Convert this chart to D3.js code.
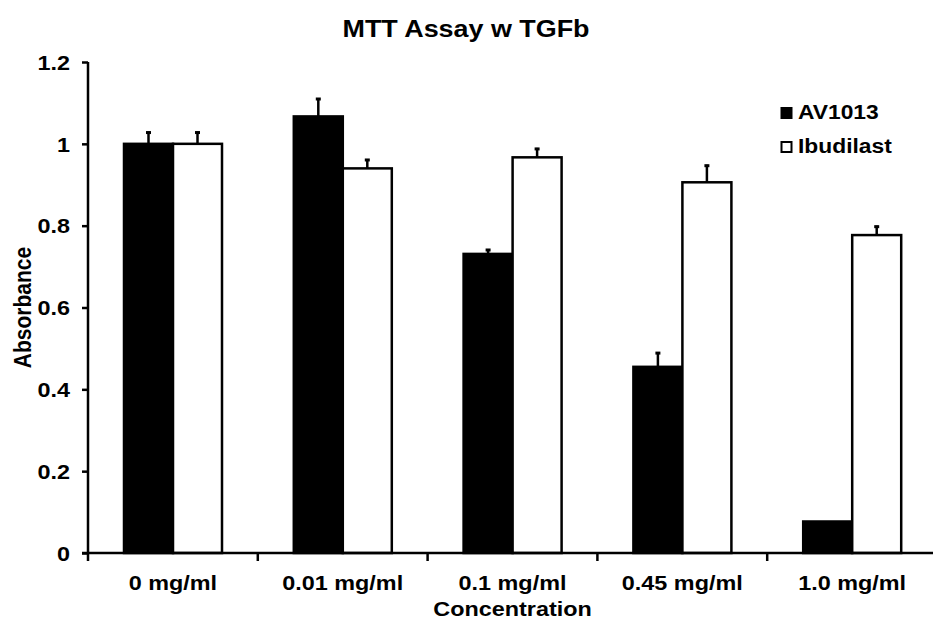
<!DOCTYPE html>
<html>
<head>
<meta charset="utf-8">
<script src="https://cdn.jsdelivr.net/npm/d3@7"></script>
<style>
  body { margin: 0; background: #fff; }
  text { font-family: "Liberation Sans", Arial, sans-serif; font-weight: bold; fill: #000; }
</style>
</head>
<body>
<svg id="chart" width="933" height="623"></svg>
<script>
var categories = ["0 mg/ml", "0.01 mg/ml", "0.1 mg/ml", "0.45 mg/ml", "1.0 mg/ml"];
var seriesNames = ["AV1013", "Ibudilast"];
var av1013 = [1.0, 1.067, 0.731, 0.455, 0.077];
var av1013Err = [0.030, 0.045, 0.012, 0.036, 0];
var ibudilast = [1.0, 0.940, 0.967, 0.906, 0.777];
var ibudilastErr = [0.030, 0.023, 0.023, 0.043, 0.023];
var yTicks = [0, 0.2, 0.4, 0.6, 0.8, 1, 1.2];

var svg = d3.select("#chart");
var plotLeft = 88, plotRight = 937, plotTop = 62, plotBottom = 553;
var sx = 1.17; // the original text is a bit wide

var x = d3.scaleBand().domain(categories).range([plotLeft, plotRight]);
var xs = d3.scaleBand().domain(seriesNames).range([36, 134]);
var y = d3.scaleLinear().domain([0, 1.2]).range([plotBottom, plotTop]);

function wideText(parent, px, py, size, anchor, str, rot) {
  return parent.append("text")
    .attr("transform", "translate(" + px + "," + py + ") scale(" + sx + ",1)" + (rot ? " rotate(" + rot + ")" : ""))
    .attr("text-anchor", anchor)
    .style("font-size", size + "px")
    .text(str);
}

var rows = categories.map(function(c, i) {
  return [
    {cat: c, s: "AV1013", v: av1013[i], e: av1013Err[i]},
    {cat: c, s: "Ibudilast", v: ibudilast[i], e: ibudilastErr[i]}
  ];
});

var fills = {"AV1013": "#000", "Ibudilast": "#fff"};

var groups = svg.append("g").selectAll("g.cat").data(rows).enter().append("g")
  .attr("class", "cat")
  .attr("transform", function(d) { return "translate(" + x(d[0].cat) + ",0)"; });

// error bars, upper side only
var withErr = function(d) { return d.filter(function(r) { return r.e > 0; }); };
var mid = function(d) { return xs(d.s) + xs.bandwidth() / 2; };

groups.selectAll("line.err").data(withErr).enter().append("line")
  .attr("class", "err")
  .attr("x1", mid).attr("x2", mid)
  .attr("y1", function(d) { return y(d.v); })
  .attr("y2", function(d) { return y(d.v + d.e); })
  .attr("stroke", "#000").attr("stroke-width", 2.5);

groups.selectAll("line.cap").data(withErr).enter().append("line")
  .attr("class", "cap")
  .attr("x1", function(d) { return mid(d) - 2.5; })
  .attr("x2", function(d) { return mid(d) + 2.5; })
  .attr("y1", function(d) { return y(d.v + d.e) + 1; })
  .attr("y2", function(d) { return y(d.v + d.e) + 1; })
  .attr("stroke", "#000").attr("stroke-width", 3);

groups.selectAll("rect").data(function(d) { return d; }).enter().append("rect")
  .attr("x", function(d) { return xs(d.s); })
  .attr("y", function(d) { return y(d.v); })
  .attr("width", xs.bandwidth())
  .attr("height", function(d) { return plotBottom - y(d.v); })
  .attr("fill", function(d) { return fills[d.s]; })
  .attr("stroke", "#000")
  .attr("stroke-width", 2.5);

// y axis
var yAxis = d3.axisLeft(y).tickValues(yTicks).tickSize(6).tickFormat(function(d) { return String(d); });
var ya = svg.append("g").attr("transform", "translate(" + plotLeft + ",0)").call(yAxis);
ya.select(".domain").remove();
ya.selectAll(".tick line").attr("stroke", "#000").attr("stroke-width", 2.5);
ya.selectAll(".tick text").remove();
ya.selectAll(".tick").each(function(d) {
  wideText(d3.select(this), -18, 0, 20, "end", String(d)).attr("dy", "0.36em");
});
ya.append("line").attr("x1", 0).attr("x2", 0).attr("y1", plotTop).attr("y2", plotBottom + 8)
  .attr("stroke", "#000").attr("stroke-width", 2.5);

// x axis
var xa = svg.append("g").attr("transform", "translate(0," + plotBottom + ")");
xa.append("line").attr("x1", plotLeft - 6).attr("x2", plotRight).attr("y1", 0).attr("y2", 0)
  .attr("stroke", "#000").attr("stroke-width", 2.5);
xa.selectAll("line.tk").data(categories.slice(1)).enter().append("line")
  .attr("class", "tk")
  .attr("x1", function(d) { return x(d); }).attr("x2", function(d) { return x(d); })
  .attr("y1", 0).attr("y2", 8)
  .attr("stroke", "#000").attr("stroke-width", 2.5);
categories.forEach(function(c) {
  wideText(xa, x(c) + x.bandwidth() / 2, 37, 20, "middle", c);
});

// titles
wideText(svg, 466, 37, 23, "middle", "MTT Assay w TGFb");
wideText(svg, (plotLeft + plotRight) / 2, 616, 20, "middle", "Concentration");
wideText(svg, 31, (plotTop + plotBottom) / 2, 21, "middle", "Absorbance", -90);

// legend
var leg = svg.append("g").attr("transform", "translate(781,106)");
var li = leg.selectAll("g").data(seriesNames).enter().append("g")
  .attr("transform", function(d, i) { return "translate(0," + (i * 34) + ")"; });
li.append("rect").attr("x", 0.5).attr("y", 2).attr("width", 10).attr("height", 10)
  .attr("fill", function(d) { return fills[d]; })
  .attr("stroke", "#000").attr("stroke-width", 2);
li.each(function(d) { wideText(d3.select(this), 17, 13, 19.5, "start", d); });
</script>
</body>
</html>
